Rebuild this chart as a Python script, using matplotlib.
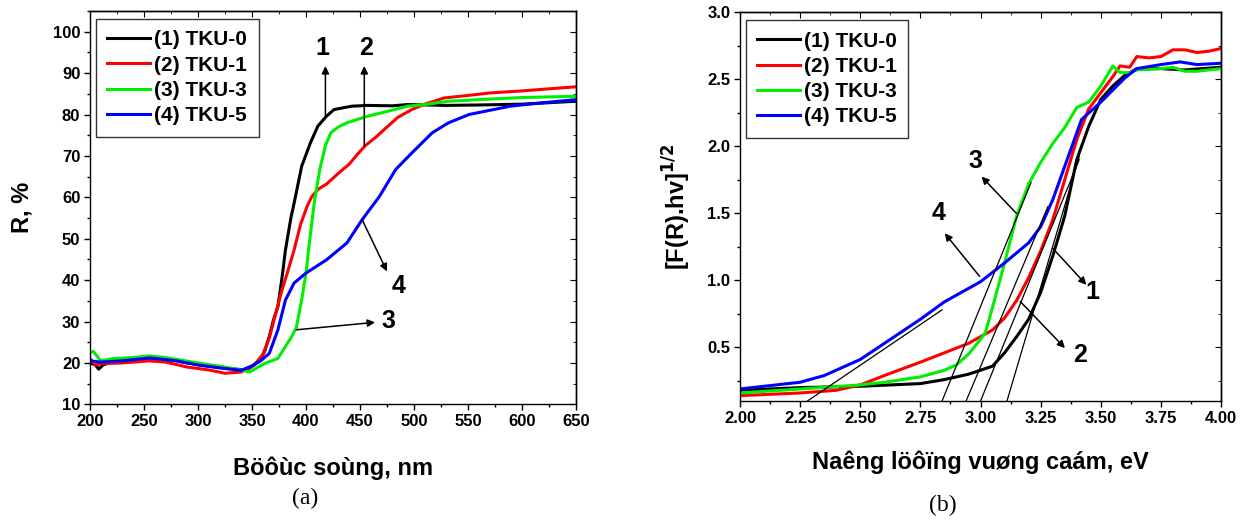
import matplotlib
matplotlib.use("Agg")
import matplotlib.pyplot as plt
from matplotlib.ticker import MultipleLocator, FormatStrFormatter

# ---- panel (a): reflectance spectra ----
wl_tku0 = [200, 205, 208, 212, 220, 240, 255, 270, 290, 310, 330, 345, 352, 358, 362, 366,
           370, 374, 378, 381, 386, 389, 396, 404, 411, 419, 426, 442, 457, 480, 494, 530,
           560, 600, 650]
r_tku0 = [20.0, 19.5, 18.5, 19.5, 20.2, 20.8, 21.2, 21.0, 20.0, 19.2, 18.6, 18.3, 19.5, 21.0,
          23.0, 26.4, 30.5, 33.6, 41.0, 47.3, 55.0, 58.6, 67.5, 73.1, 77.2, 79.6, 81.2, 82.0,
          82.2, 82.1, 82.4, 82.2, 82.3, 82.5, 83.2]

wl_tku1 = [200, 205, 210, 230, 255, 270, 290, 310, 325, 340, 345, 352, 360, 366, 370, 377,
           383, 389, 395, 401, 405, 411, 419, 430, 440, 449, 455, 465, 476, 485, 498, 510,
           528, 550, 570, 600, 625, 650]
r_tku1 = [21.0, 19.5, 19.8, 20.0, 20.5, 20.2, 19.0, 18.3, 17.5, 17.8, 18.5, 19.5, 22.0, 26.0,
          30.0, 36.9, 42.0, 47.3, 53.5, 57.8, 60.0, 61.9, 63.2, 65.8, 68.0, 70.8, 72.5, 74.6,
          77.2, 79.3, 81.2, 82.5, 84.0, 84.6, 85.2, 85.7, 86.2, 86.7]

wl_tku3 = [200, 203, 210, 220, 240, 255, 270, 300, 320, 340, 348, 351, 362, 374, 381, 386,
           391, 396, 400, 402, 405, 408, 413, 418, 423, 430, 438, 457, 470, 494, 510, 532,
           560, 600, 650]
r_tku3 = [22.5, 22.8, 20.5, 21.0, 21.3, 21.7, 21.3, 20.0, 19.2, 18.3, 17.8, 18.3, 19.9, 21.1,
          24.0, 26.0, 28.5, 35.2, 41.7, 46.5, 53.0, 59.4, 67.0, 72.5, 75.6, 77.0, 78.0, 79.6,
          80.4, 82.0, 82.4, 83.2, 83.6, 84.1, 84.4]

wl_tku5 = [200, 210, 230, 255, 280, 300, 320, 340, 350, 358, 366, 374, 381, 389, 400, 419,
           438, 452, 468, 483, 498, 517, 532, 551, 570, 589, 610, 630, 650]
r_tku5 = [20.5, 20.2, 20.5, 21.2, 20.5, 19.5, 18.8, 18.2, 19.3, 20.5, 22.3, 28.0, 35.2, 39.3,
          41.7, 44.9, 49.0, 54.6, 60.2, 66.7, 70.7, 75.6, 78.0, 80.0, 81.0, 82.0, 82.6, 83.1,
          83.6]

# ---- panel (b): Kubelka-Munk plots ----
e_tku0 = [2.00, 2.25, 2.50, 2.75, 2.85, 2.95, 3.05, 3.10, 3.15, 3.20, 3.25, 3.30, 3.35, 3.40,
          3.45, 3.50, 3.55, 3.60, 3.65, 3.75, 3.85, 3.92, 4.00]
km_tku0 = [0.18, 0.20, 0.21, 0.23, 0.26, 0.30, 0.36, 0.46, 0.58, 0.71, 0.91, 1.18, 1.48, 1.90,
           2.15, 2.35, 2.45, 2.53, 2.58, 2.58, 2.57, 2.58, 2.59]

e_tku1 = [2.00, 2.25, 2.40, 2.50, 2.60, 2.75, 2.85, 2.95, 3.00, 3.05, 3.10, 3.15, 3.20, 3.25,
          3.30, 3.35, 3.40, 3.45, 3.50, 3.55, 3.58, 3.62, 3.65, 3.70, 3.75, 3.80, 3.85, 3.90,
          3.95, 4.00]
km_tku1 = [0.14, 0.16, 0.18, 0.22, 0.29, 0.39, 0.46, 0.53, 0.58, 0.63, 0.72, 0.85, 1.02, 1.22,
           1.45, 1.75, 2.05, 2.28, 2.40, 2.52, 2.60, 2.59, 2.67, 2.66, 2.67, 2.72, 2.72, 2.70,
           2.71, 2.73]

e_tku3 = [2.00, 2.25, 2.50, 2.60, 2.75, 2.85, 2.90, 2.95, 3.00, 3.02, 3.05, 3.10, 3.15, 3.20,
          3.25, 3.30, 3.35, 3.40, 3.45, 3.50, 3.55, 3.58, 3.62, 3.65, 3.75, 3.80, 3.85, 3.90,
          4.00]
km_tku3 = [0.16, 0.19, 0.22, 0.24, 0.28, 0.33, 0.37, 0.45, 0.56, 0.61, 0.80, 1.13, 1.48, 1.72,
           1.88, 2.02, 2.14, 2.29, 2.33, 2.45, 2.60, 2.55, 2.55, 2.57, 2.58, 2.59, 2.56, 2.56,
           2.58]

e_tku5 = [2.00, 2.25, 2.35, 2.50, 2.60, 2.75, 2.85, 3.00, 3.10, 3.20, 3.25, 3.30, 3.42, 3.50,
          3.60, 3.65, 3.75, 3.83, 3.90, 4.00]
km_tku5 = [0.19, 0.24, 0.29, 0.41, 0.53, 0.71, 0.84, 0.99, 1.13, 1.28, 1.40, 1.60, 2.20, 2.33,
           2.51, 2.58, 2.61, 2.63, 2.61, 2.62]

# tangent lines used to read the band gap (x0, y0, x1, y1)
tangent_lines = [
    (2.28, 0.10, 2.84, 0.78),
    (2.84, 0.10, 3.21, 1.73),
    (2.94, 0.10, 3.28, 1.55),
    (3.00, 0.10, 3.41, 1.90),
    (3.11, 0.10, 3.41, 1.92),
]

labels = ["(1) TKU-0", "(2) TKU-1", "(3) TKU-3", "(4) TKU-5"]
colors = ["black", "#ff0000", "#00ee00", "#0000ff"]

plt.rcParams['font.family'] = ['Liberation Sans', 'DejaVu Sans']
plt.rcParams['font.weight'] = 'bold'
plt.rcParams['axes.linewidth'] = 1.0


def style_axes(ax, xmaj, xmin, ymaj, ymin):
    ax.xaxis.set_major_locator(MultipleLocator(xmaj))
    ax.xaxis.set_minor_locator(MultipleLocator(xmin))
    ax.yaxis.set_major_locator(MultipleLocator(ymaj))
    ax.yaxis.set_minor_locator(MultipleLocator(ymin))
    ax.tick_params(which='major', direction='out', length=4, width=1, labelsize=12, pad=3)
    ax.tick_params(which='minor', direction='out', length=2.5, width=1)
    # inner ticks on top and right, no labels
    top = ax.secondary_xaxis('top')
    top.xaxis.set_major_locator(MultipleLocator(xmaj))
    top.xaxis.set_minor_locator(MultipleLocator(xmin))
    top.tick_params(which='both', direction='in', labeltop=False)
    top.tick_params(which='major', length=4)
    top.tick_params(which='minor', length=2.5)
    right = ax.secondary_yaxis('right')
    right.yaxis.set_major_locator(MultipleLocator(ymaj))
    right.yaxis.set_minor_locator(MultipleLocator(ymin))
    right.tick_params(which='both', direction='in', labelright=False)
    right.tick_params(which='major', length=4)
    right.tick_params(which='minor', length=2.5)


def add_legend(ax):
    leg = ax.legend(loc='upper left', bbox_to_anchor=(0.012, 0.98), fontsize=15,
                    frameon=True, fancybox=False, edgecolor='#333333', framealpha=1,
                    handlelength=2.05, handletextpad=0.2, labelspacing=0.3,
                    borderpad=0.55, borderaxespad=0.0)
    leg.get_frame().set_linewidth(1.0)
    for t in leg.get_texts():
        t.set_fontweight('bold')


def arrow(ax, start, end, label, label_xy):
    ax.annotate('', xy=end, xytext=start,
                arrowprops=dict(arrowstyle='-|>', color='black', lw=1.1,
                                mutation_scale=11, shrinkA=0, shrinkB=0))
    ax.text(label_xy[0], label_xy[1], label, fontsize=18, fontweight='bold',
            ha='center', va='center')


fig = plt.figure(figsize=(12.49, 5.24), dpi=100)

# ----- (a) -----
ax1 = fig.add_axes([0.0721, 0.2284, 0.389, 0.7506])
series_a = [(wl_tku0, r_tku0), (wl_tku1, r_tku1), (wl_tku3, r_tku3), (wl_tku5, r_tku5)]
for (x, y), c, lab in zip(series_a, colors, labels):
    ax1.plot(x, y, color=c, lw=2.2, label=lab)
ax1.set_xlim(200, 650)
ax1.set_ylim(10, 105)
style_axes(ax1, 50, 25, 10, 5)
for lab in ax1.get_xticklabels() + ax1.get_yticklabels():
    lab.set_fontweight('bold')
ax1.set_xlabel("Böôùc soùng, nm", fontsize=17, fontweight='bold', labelpad=20)
ax1.set_ylabel("R, %", fontsize=17, fontweight='bold', labelpad=14)
add_legend(ax1)

arrow(ax1, (418, 79.2), (418, 91.7), "1", (415, 96))
arrow(ax1, (454, 72.3), (454, 91.7), "2", (456, 96))
arrow(ax1, (452, 54.6), (475, 42.1), "4", (486, 38.5))
arrow(ax1, (391, 28.0), (464, 29.8), "3", (476, 30.2))

# ----- (b) -----
ax2 = fig.add_axes([0.5925, 0.2347, 0.3851, 0.7418])
series_b = [(e_tku0, km_tku0), (e_tku1, km_tku1), (e_tku3, km_tku3), (e_tku5, km_tku5)]
for (x, y), c, lab in zip(series_b, colors, labels):
    ax2.plot(x, y, color=c, lw=2.2, label=lab)
for x0, y0, x1, y1 in tangent_lines:
    ax2.plot([x0, x1], [y0, y1], color='black', lw=0.9)
ax2.set_xlim(2.0, 4.0)
ax2.set_ylim(0.1, 3.0)
style_axes(ax2, 0.25, 0.125, 0.5, 0.25)
ax2.xaxis.set_major_formatter(FormatStrFormatter('%.2f'))
ax2.yaxis.set_major_formatter(FormatStrFormatter('%.1f'))
for lab in ax2.get_xticklabels() + ax2.get_yticklabels():
    lab.set_fontweight('bold')
ax2.set_xlabel("Naêng löôïng vuøng caám, eV", fontsize=17, fontweight='bold', labelpad=18)
ax2.set_ylabel(r"[F(R).hv]$^{\mathbf{1/2}}$", fontsize=17, fontweight='bold', labelpad=10)
add_legend(ax2)

arrow(ax2, (3.149, 1.50), (3.004, 1.775), "3", (2.98, 1.89))
arrow(ax2, (2.996, 1.03), (2.851, 1.352), "4", (2.826, 1.50))
arrow(ax2, (3.30, 1.24), (3.44, 0.967), "1", (3.464, 0.915))
arrow(ax2, (3.165, 0.843), (3.351, 0.495), "2", (3.415, 0.445))

fig.text(0.2442, 0.048, "(a)", fontsize=17, family='Liberation Serif',
         fontweight='normal', ha='center', va='center')
fig.text(0.755, 0.036, "(b)", fontsize=17, family='Liberation Serif',
         fontweight='normal', ha='center', va='center')

fig.savefig("out.png", dpi=100)
